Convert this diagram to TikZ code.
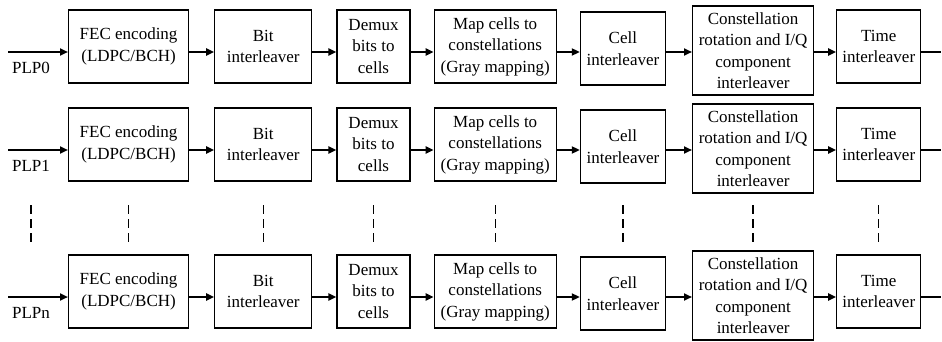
\documentclass[tikz,border=0pt]{standalone}
\usepackage{fontspec}
\setmainfont{Liberation Serif}
\usetikzlibrary{positioning, arrows.meta}
\tikzstyle{base} = [draw=black, line width=1.2pt, minimum height=73pt, text centered,
 align=center, inner sep=3pt, font=\fontsize{17}{21.5}\selectfont]
\tikzstyle{block} = [base, rectangle]
\tikzstyle{plp} = [inner sep=0pt, font=\fontsize{17}{21.5}\selectfont]
\tikzstyle{arrow} = [line width=2pt, -{Triangle[length=8pt, width=7pt]}]
\tikzstyle{line} = [line width=2pt]
\tikzstyle{skip} = [line width=1.3pt, dash pattern=on 9pt off 5pt]
\NewDocumentCommand\PLPChain{m m m}{%
    \coordinate (IN#1) at (8,#2);
    \coordinate (OUT#1) at (941,#2);
    \node (FEC#1) [block, minimum width=120pt, anchor=west] at (68,#2-5.5)
        {FEC encoding\\(LDPC/BCH)};
    \node (BIT#1) [block, minimum width=97pt, right=25pt of FEC#1] {Bit\\interleaver};
    \node (DEMUX#1) [block, minimum width=73pt, right=24pt of BIT#1] {Demux\\bits to\\cells};
    \node (MAP#1) [block, minimum width=122pt, right=23pt of DEMUX#1]
        {Map cells to\\constellations\\(Gray mapping)};
    \node (CELL#1) [block, minimum width=85pt, right=23pt of MAP#1, yshift=-2pt]
        {Cell\\interleaver};
    \node (ROT#1) [block, minimum width=121pt, minimum height=89pt, right=26pt of CELL#1,
        yshift=-2pt] {Constellation\\rotation and I/Q\\component\\interleaver};
    \node (TIME#1) [block, minimum width=84pt, right=22pt of ROT#1, yshift=4pt]
        {Time\\interleaver};
    \node (LBL#1) [plp] at (31,#2+16) {#3};
    % Arrows
    \draw[arrow] (IN#1) -- (FEC#1.west |- IN#1);
    \draw[arrow] (FEC#1.east |- IN#1) -- (BIT#1.west |- IN#1);
    \draw[arrow] (BIT#1.east |- IN#1) -- (DEMUX#1.west |- IN#1);
    \draw[arrow] (DEMUX#1.east |- IN#1) -- (MAP#1.west |- IN#1);
    \draw[arrow] (MAP#1.east |- IN#1) -- (CELL#1.west |- IN#1);
    \draw[arrow] (CELL#1.east |- IN#1) -- (ROT#1.west |- IN#1);
    \draw[arrow] (ROT#1.east |- IN#1) -- (TIME#1.west |- IN#1);
    \draw[line] (TIME#1.east |- IN#1) -- (OUT#1);
}

\begin{document}
\begin{tikzpicture}[x=1pt, y=-1pt]
\useasboundingbox (0,0) rectangle (942,342);

\PLPChain{0}{52}{PLP0}
\PLPChain{1}{150}{PLP1}
\PLPChain{n}{297}{PLPn}

% dashed gaps between PLP1 and PLPn
\coordinate (DTOP) at (0,205);
\coordinate (DBOT) at (0,242);
\foreach \n in {LBL1, FEC1, BIT1, DEMUX1, MAP1, CELL1, ROT1, TIME1}
    \draw[skip] (\n |- DTOP) -- (\n |- DBOT);

\end{tikzpicture}
\end{document}
